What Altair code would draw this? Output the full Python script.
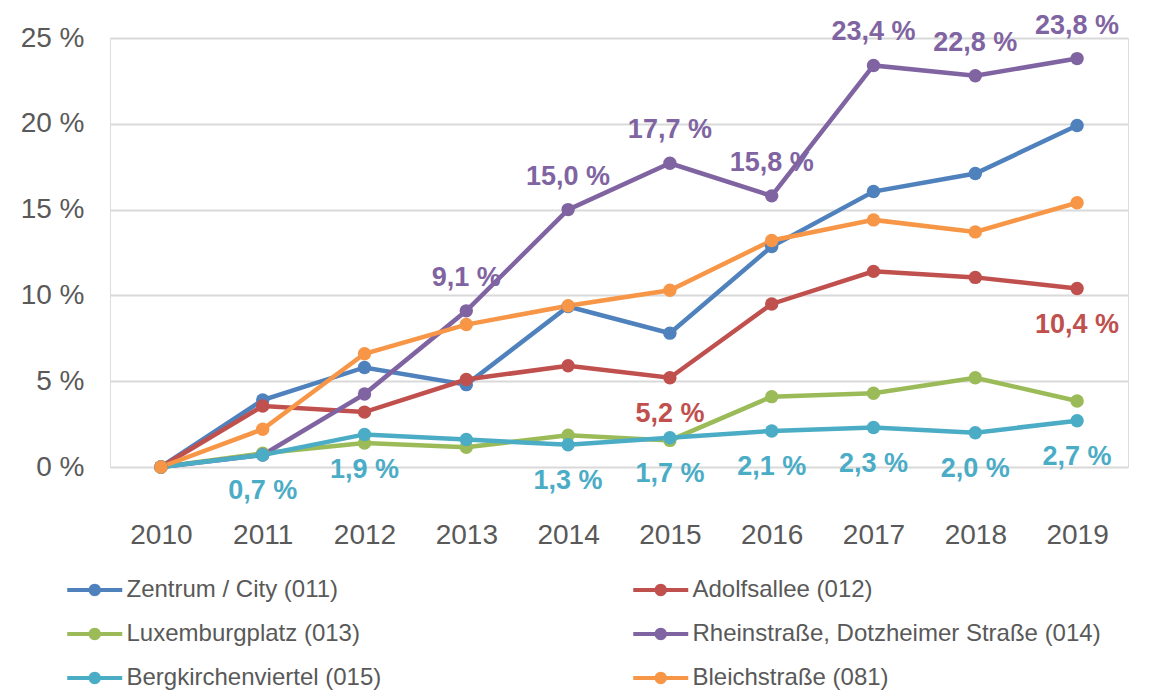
import altair as alt
import pandas as pd

years = [str(y) for y in range(2010, 2020)]
series = [
    "Zentrum / City (011)",
    "Adolfsallee (012)",
    "Luxemburgplatz (013)",
    "Rheinstraße, Dotzheimer Straße (014)",
    "Bergkirchenviertel (015)",
    "Bleichstraße (081)",
]
colors = ["#4F81BD", "#C0504D", "#9BBB59", "#8064A2", "#4BACC6", "#F79646"]

zentrum = [0.0, 3.9, 5.8, 4.8, 9.35, 7.8, 12.85, 16.05, 17.1, 19.9]
adolfsallee = [0.0, 3.55, 3.2, 5.1, 5.9, 5.2, 9.5, 11.4, 11.05, 10.4]
luxemburgplatz = [0.0, 0.8, 1.4, 1.15, 1.85, 1.55, 4.1, 4.3, 5.2, 3.85]
rheinstrasse = [0.0, 0.7, 4.25, 9.1, 15.0, 17.7, 15.8, 23.4, 22.8, 23.8]
bergkirchen = [0.0, 0.7, 1.9, 1.6, 1.3, 1.7, 2.1, 2.3, 2.0, 2.7]
bleichstrasse = [0.0, 2.2, 6.6, 8.3, 9.4, 10.3, 13.2, 14.4, 13.7, 15.4]

values = [zentrum, adolfsallee, luxemburgplatz, rheinstrasse, bergkirchen, bleichstrasse]

# which points carry a data label, and where
labels_above = {
    "Rheinstraße, Dotzheimer Straße (014)": ["2013", "2014", "2015", "2016", "2017", "2018", "2019"],
}
labels_below = {
    "Bergkirchenviertel (015)": ["2011", "2012", "2014", "2015", "2016", "2017", "2018", "2019"],
    "Adolfsallee (012)": ["2015", "2019"],
}

rows = []
for s, vals in zip(series, values):
    for y, v in zip(years, vals):
        pos = ""
        if y in labels_above.get(s, []):
            pos = "above"
        elif y in labels_below.get(s, []):
            pos = "below"
        rows.append({
            "series": s,
            "year": y,
            "value": v,
            "pos": pos,
            "label": f"{v:.1f}".replace(".", ",") + " %",
        })
df = pd.DataFrame(rows)

FONT = "Liberation Sans"
GRAY = "#595959"

legend_path = ("M-1,-0.15H3V0.15H-1Z "
               "M1.45,0A0.45,0.45,0,1,1,0.55,0A0.45,0.45,0,1,1,1.45,0Z")

color = alt.Color(
    "series:N",
    scale=alt.Scale(domain=series, range=colors),
    legend=alt.Legend(
        title=None,
        orient="none",
        legendX=-43,
        legendY=538,
        columns=2,
        direction="horizontal",
        symbolType=legend_path,
        symbolSize=756,
        symbolStrokeWidth=0,
        symbolOpacity=1,
        labelFont=FONT,
        labelFontSize=24,
        labelColor=GRAY,
        labelOffset=31.5,
        labelLimit=600,
        columnPadding=251,
        rowPadding=18,
        padding=0,
    ),
)

x = alt.X(
    "year:O",
    sort=years,
    title=None,
    axis=alt.Axis(
        labelAngle=0,
        labelFont=FONT,
        labelFontSize=28,
        labelColor=GRAY,
        labelPadding=54,
        ticks=False,
        domain=False,
        grid=False,
    ),
)
y = alt.Y(
    "value:Q",
    title=None,
    scale=alt.Scale(domain=[0, 25], nice=False),
    axis=alt.Axis(
        values=[0, 5, 10, 15, 20, 25],
        labelExpr="datum.value + ' %'",
        labelFont=FONT,
        labelFontSize=28,
        labelColor=GRAY,
        labelPadding=26,
        ticks=False,
        domain=False,
        gridColor="#d9d9d9",
        gridWidth=2,
    ),
)

base = alt.Chart(df)

lines = base.mark_line(strokeWidth=4.5).encode(x=x, y=y, color=color, order=alt.Order("year:O"))
points = base.mark_circle(size=180, opacity=1).encode(x=x, y=y, color=color)

label_color = alt.Color("series:N", scale=alt.Scale(domain=series, range=colors), legend=None)

text_above = base.transform_filter(alt.datum.pos == "above").mark_text(
    font=FONT, fontSize=27, fontWeight="bold", dy=-33, baseline="middle", align="center"
).encode(x=x, y=y, text="label:N", color=label_color)

text_below = base.transform_filter(alt.datum.pos == "below").mark_text(
    font=FONT, fontSize=27, fontWeight="bold", dy=36, baseline="middle", align="center"
).encode(x=x, y=y, text="label:N", color=label_color)

chart = alt.layer(lines, points, text_above, text_below).properties(
    width=1018,
    height=429,
    padding={"left": 102, "top": 30, "right": 23, "bottom": 234},
    autosize=alt.AutoSizeParams(type="none"),
).configure_view(stroke=None).configure(background="white")

chart.save("out.html", embed_options={"renderer": "svg", "actions": False})
